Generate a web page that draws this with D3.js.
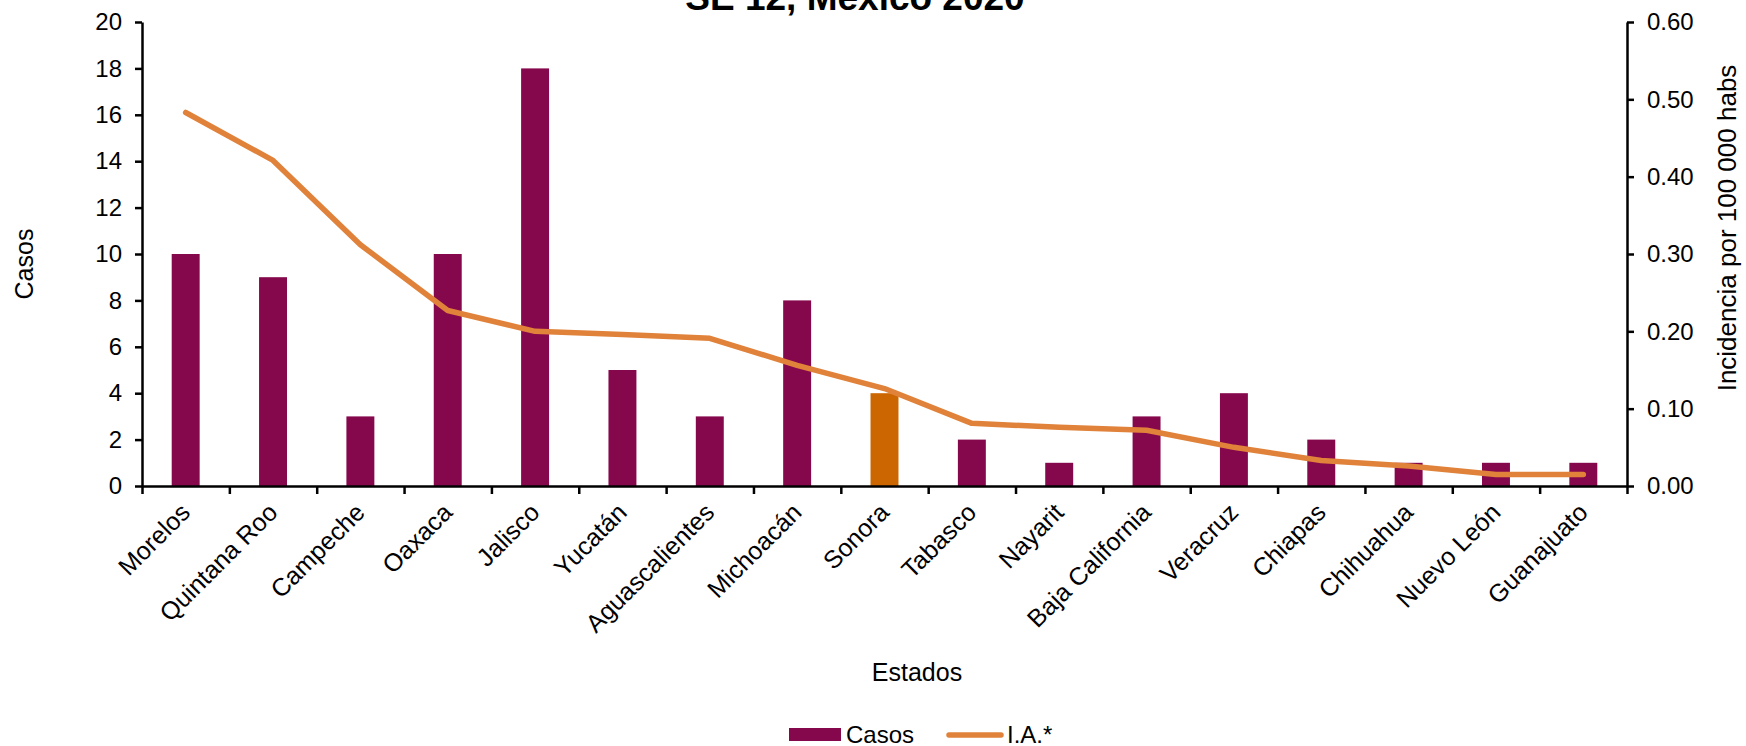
<!DOCTYPE html>
<html>
<head>
<meta charset="utf-8">
<script src="https://cdn.jsdelivr.net/npm/d3@7"></script>
<style>
  body { margin: 0; background: #fff; }
  svg { display: block; font-family: "Liberation Sans", Arial, sans-serif; }
</style>
</head>
<body>
<div id="dataviz"></div>
<script>
// data
const estados = ["Morelos", "Quintana Roo", "Campeche", "Oaxaca", "Jalisco", "Yucatán",
  "Aguascalientes", "Michoacán", "Sonora", "Tabasco", "Nayarit", "Baja California",
  "Veracruz", "Chiapas", "Chihuahua", "Nuevo León", "Guanajuato"];
const casos = [10, 9, 3, 10, 18, 5, 3, 8, 4, 2, 1, 3, 4, 2, 1, 1, 1];
const incidencia = [0.483, 0.421, 0.312, 0.227, 0.200, 0.196, 0.191, 0.156, 0.126,
  0.081, 0.076, 0.072, 0.050, 0.033, 0.026, 0.015, 0.015];
const destacado = "Sonora";
const casosTicks = [0, 2, 4, 6, 8, 10, 12, 14, 16, 18, 20];
const incTicks = [0, 0.1, 0.2, 0.3, 0.4, 0.5, 0.6];

const W = 1746, H = 746;
const margin = { top: 22, right: 119, bottom: 260, left: 142 };
const width = W - margin.left - margin.right,
      height = H - margin.top - margin.bottom;

const barColor = "#86084c", hiColor = "#cc6600", lineColor = "#e0823a";

const svg = d3.select("#dataviz")
  .append("svg")
  .attr("width", W)
  .attr("height", H);

const g = svg.append("g")
  .attr("transform", `translate(${margin.left}, ${margin.top})`);

const x = d3.scaleBand().domain(estados).range([0, width]).padding(0);
const xEdges = d3.scaleLinear().domain([0, estados.length]).range([0, width]);
const y = d3.scaleLinear().domain([0, 20]).range([height, 0]);
const y2 = d3.scaleLinear().domain([0, 0.6]).range([height, 0]);

const barW = x.bandwidth() * 0.32;

// bars
g.selectAll("rect.bar")
  .data(estados)
  .join("rect")
  .attr("class", "bar")
  .attr("x", d => x(d) + (x.bandwidth() - barW) / 2)
  .attr("y", (d, i) => y(casos[i]))
  .attr("width", barW)
  .attr("height", (d, i) => height - y(casos[i]))
  .attr("fill", d => d === destacado ? hiColor : barColor);

// axes
const styleAxis = sel => {
  sel.selectAll("path, line").attr("stroke", "#000").attr("stroke-width", 2.5);
  sel.selectAll("text").attr("fill", "#000").attr("font-size", "24px")
    .attr("font-family", "'Liberation Sans', Arial, sans-serif");
};

g.append("g")
  .call(d3.axisLeft(y).tickValues(casosTicks).tickSize(7).tickSizeOuter(0).tickPadding(13))
  .call(styleAxis);

g.append("g")
  .attr("transform", `translate(${width},0)`)
  .call(d3.axisRight(y2).tickValues(incTicks).tickFormat(d3.format(".2f"))
    .tickSize(7).tickSizeOuter(0).tickPadding(13))
  .call(styleAxis);

g.append("g")
  .attr("transform", `translate(0,${height})`)
  .call(d3.axisBottom(xEdges).tickValues(d3.range(0, estados.length + 1))
    .tickFormat("").tickSize(8).tickSizeOuter(0))
  .call(styleAxis);

// category labels, rotated
g.selectAll("text.cat")
  .data(estados)
  .join("text")
  .attr("class", "cat")
  .attr("transform", d => `translate(${x(d) + x.bandwidth() / 2 + 6}, ${height + 28}) rotate(-45)`)
  .attr("text-anchor", "end")
  .attr("font-size", "25px")
  .attr("fill", "#000")
  .text(d => d);

// incidence line
const line = d3.line()
  .x((d, i) => x(estados[i]) + x.bandwidth() / 2)
  .y(d => y2(d));

g.append("path")
  .datum(incidencia)
  .attr("d", line)
  .attr("fill", "none")
  .attr("stroke", lineColor)
  .attr("stroke-width", 5.5)
  .attr("stroke-linecap", "round")
  .attr("stroke-linejoin", "round");

// titles
svg.append("text")
  .attr("x", 855).attr("y", 10)
  .attr("text-anchor", "middle")
  .attr("font-size", "37px").attr("font-weight", "bold")
  .text("SE 12, México 2020");

svg.append("text")
  .attr("transform", "translate(33, 264) rotate(-90)")
  .attr("text-anchor", "middle")
  .attr("font-size", "25px")
  .text("Casos");

svg.append("text")
  .attr("transform", "translate(1736, 228) rotate(-90)")
  .attr("text-anchor", "middle")
  .attr("font-size", "26px")
  .text("Incidencia por 100 000 habs");

svg.append("text")
  .attr("x", 917).attr("y", 681)
  .attr("text-anchor", "middle")
  .attr("font-size", "25px")
  .text("Estados");

// legend
const legend = svg.append("g").attr("font-size", "24px");
legend.append("rect")
  .attr("x", 789).attr("y", 728).attr("width", 52).attr("height", 13)
  .attr("fill", barColor);
legend.append("text").attr("x", 846).attr("y", 743).text("Casos");
legend.append("line")
  .attr("x1", 949).attr("x2", 1001).attr("y1", 735).attr("y2", 735)
  .attr("stroke", lineColor).attr("stroke-width", 5.5).attr("stroke-linecap", "round");
legend.append("text").attr("x", 1007).attr("y", 743).text("I.A.*");
</script>
</body>
</html>
